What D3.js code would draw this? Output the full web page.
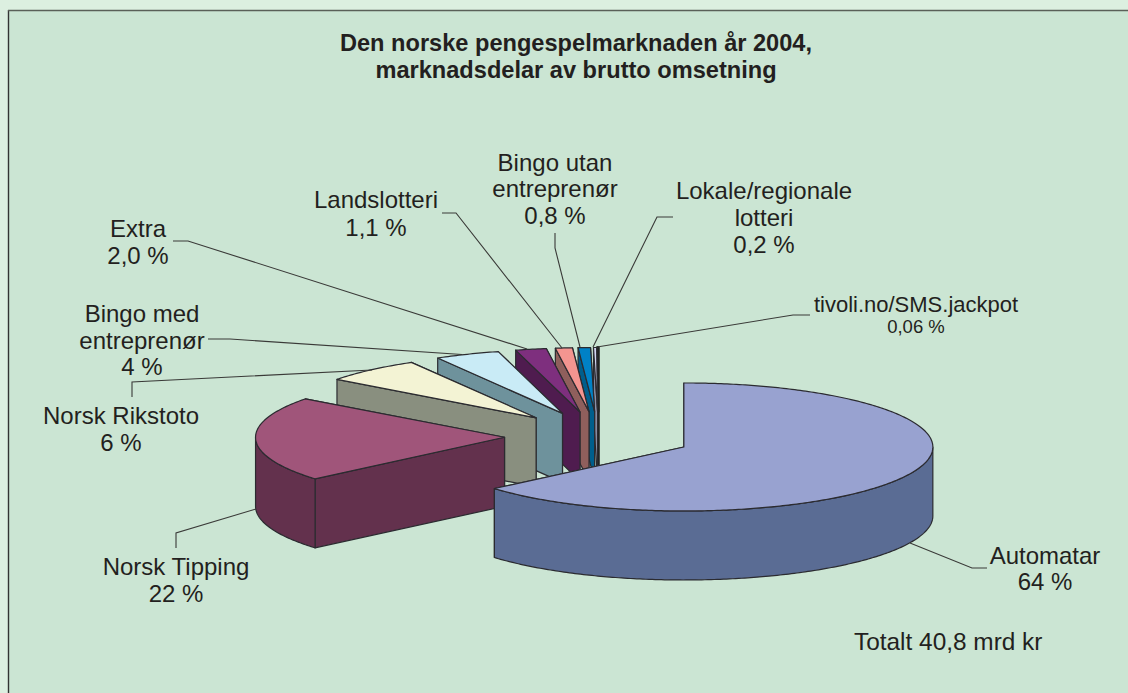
<!DOCTYPE html>
<html><head><meta charset="utf-8">
<script src="https://cdn.jsdelivr.net/npm/d3@7"></script>
<style>html,body{margin:0;padding:0;background:#dcefe0;overflow:hidden}svg{display:block}</style>
</head><body><svg id="c" width="1128" height="693"></svg>
<script>
// ---- data ----
const categories = ["Automatar","Norsk Tipping","Norsk Rikstoto","Bingo med entreprenør","Extra","Landslotteri","Bingo utan entreprenør","Lokale/regionale lotteri","tivoli.no/SMS.jackpot"];
const sliceShares = [63.8, 21.5, 6.4, 4.2, 2.0, 1.1, 0.8, 0.2, 0.06];
const shareLabels = ["64 %","22 %","6 %","4 %","2,0 %","1,1 %","0,8 %","0,2 %","0,06 %"];
const titleLines = ["Den norske pengespelmarknaden år 2004,","marknadsdelar av brutto omsetning"];
const totalNote = "Totalt 40,8 mrd kr";
// ---- styles ----
const topColors  = ["#98a2d0","#a0557a","#f3f3d4","#c9ebf6","#7e2f7e","#f49590","#0081c6","#d2d4f0","#222222"];
const wallColors = ["#5a6c94","#63314d","#898f7f","#6e929c","#4f1c4f","#8f5f5c","#005e8c","#8c90a8","#222222"];
// ---- layout ----
const cx=598.5, cy=436.5, rx=249, ry=64, depth=69, explodeX=94, explodeY=25;
const labelLayout = [
 {x:1045,y:[564,590],lines:["Automatar"]},
 {x:176,y:[575,602],lines:["Norsk Tipping"]},
 {x:121,y:[424,451],lines:["Norsk Rikstoto"]},
 {x:142,y:[322,349,375],lines:["Bingo med","entreprenør"]},
 {x:138,y:[237,264],lines:["Extra"]},
 {x:376,y:[208,236],lines:["Landslotteri"]},
 {x:555,y:[171,197,224],lines:["Bingo utan","entreprenør"]},
 {x:764,y:[199,226,253],lines:["Lokale/regionale","lotteri"]},
 {x:916,y:[312,333],lines:["tivoli.no/SMS.jackpot"]}
];
const leaders = [
 [[910,543],[972,568],[987,568]],
 [[176,548],[176,533],[256,509]],
 [[132,397],[132,382],[372,370]],
 [[208,339],[230,339],[462,354.5]],
 [[173,241],[188,241],[527,349]],
 [[442,213],[456,213],[562,348]],
 [[555,233],[555,248],[580,347]],
 [[673,217],[657,217],[593,347]],
 [[810,315],[793,315],[597,347]]
];
const svg = d3.select("#c");
const font = "'Liberation Sans',Arial,sans-serif", ink="#231f20", edge="#2b2b30";

svg.append("rect").attr("width",1128).attr("height",693).attr("fill","#dcefe0");
svg.append("rect").attr("x",8).attr("y",10).attr("width",1120).attr("height",683).attr("fill","#cbe5d3");
svg.append("line").attr("x1",8.5).attr("x2",8.5).attr("y1",10).attr("y2",693).attr("stroke","#333").attr("stroke-width",1.4);
svg.append("line").attr("x1",8).attr("x2",1128).attr("y1",10.5).attr("y2",10.5).attr("stroke","#5a6058").attr("stroke-width",1.4);

const pie = d3.pie().sort(null).startAngle(0).endAngle(2*Math.PI);
const arcs = pie(sliceShares);
const sx = d3.scaleLinear().domain([-1,1]).range([-rx,rx]);
const sy = d3.scaleLinear().domain([-1,1]).range([-ry,ry]);
const line = d3.line();
const rim = (ox,oy,a) => [ox+sx(Math.sin(a)), oy-sy(Math.cos(a))];
const samples = (a0,a1) => { const n=Math.max(2,Math.ceil((a1-a0)*80)); return d3.range(n+1).map(i=>a0+(a1-a0)*i/n); };
const down = p => [p[0],p[1]+depth];

const g = svg.append("g");
// painter's order: back slices first, Automatar last
d3.range(arcs.length-1,-1,-1).forEach(i=>{
  const a=arcs[i], mid=(a.startAngle+a.endAngle)/2;
  const ox=cx+Math.sin(mid)*explodeX, oy=cy-Math.cos(mid)*explodeY;
  const apex=[ox,oy], s=rim(ox,oy,a.startAngle), e=rim(ox,oy,a.endAngle);
  const face=(pts,fill)=>g.append("path").attr("d",line(pts)+"Z").attr("fill",fill).attr("stroke",i===8?"#222":edge).attr("stroke-width",i===8?2.4:1.2).attr("stroke-linejoin","round");
  face([apex,e,down(e),down(apex)],wallColors[i]);
  face([apex,s,down(s),down(apex)],wallColors[i]);
  const lo=Math.max(a.startAngle,Math.PI/2), hi=Math.min(a.endAngle,3*Math.PI/2);
  if(hi>lo){
    const top=samples(lo,hi).map(t=>rim(ox,oy,t));
    face(top.concat(top.slice().reverse().map(down)),wallColors[i]);
  }
  face([apex].concat(samples(a.startAngle,a.endAngle).map(t=>rim(ox,oy,t))),topColors[i]);
});

// leader lines
svg.append("g").selectAll("path").data(leaders).join("path")
  .attr("d",d=>line(d)).attr("fill","none").attr("stroke","#3a3a38").attr("stroke-width",1.1);

// labels
const txt=(x,y,s,size,w,anchor)=>svg.append("text").attr("x",x).attr("y",y).attr("text-anchor",anchor||"middle")
  .attr("font-family",font).attr("font-size",size).attr("font-weight",w||400).attr("fill",ink).text(s);
labelLayout.forEach((l,i)=>{
  const small=i===8;
  l.lines.forEach((s,k)=>txt(l.x,l.y[k],s,small?22:24));
  txt(l.x,l.y[l.lines.length],shareLabels[i],small?18.5:24);
});
txt(576,51,titleLines[0],23.6,700);
txt(576,78,titleLines[1],23.6,700);
txt(854,650,totalNote,24.4,400,"start");
</script></body></html>
